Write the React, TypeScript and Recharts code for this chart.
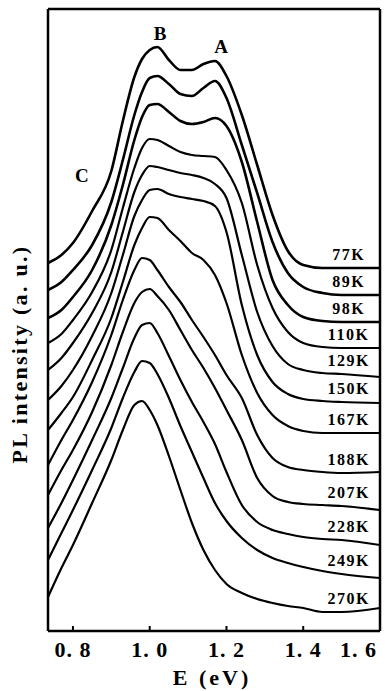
import React from "react";
import { LineChart, Line, XAxis, YAxis, ReferenceDot, CartesianGrid } from "recharts";

// photon energy (eV) shared by all spectra
const energy = [
  0.735, 0.77, 0.8, 0.85, 0.9, 0.93, 0.96, 0.98, 1.0, 1.02, 1.05, 1.08,
  1.11, 1.14, 1.17, 1.2, 1.24, 1.28, 1.32, 1.36, 1.4, 1.45, 1.5, 1.6,
];

const temperatures = ["77K", "89K", "98K", "110K", "129K", "150K", "167K", "188K", "207K", "228K", "249K", "270K"];

// PL intensity (a.u.), curves stacked with offsets as in the figure
const pl77K = [368, 376, 388, 420, 460, 510, 554, 572, 581, 584, 571, 561, 561, 567, 570, 555, 516, 466, 416, 380, 366, 363, 363, 363];
const pl89K = [341, 349, 361, 386, 429, 471, 516, 539, 553, 555, 547, 537, 535, 543, 550, 533, 486, 438, 389, 358, 344, 338, 336, 336];
const pl98K = [313, 321, 334, 361, 406, 446, 491, 514, 526, 527, 519, 510, 507, 509, 513, 505, 469, 409, 351, 326, 314, 310, 309, 309];
const pl110K = [288, 297, 311, 339, 381, 423, 463, 483, 492, 491, 485, 479, 476, 475, 474, 461, 428, 366, 323, 299, 288, 284, 283, 283];
const pl129K = [261, 273, 288, 318, 359, 399, 439, 456, 465, 464, 461, 458, 456, 453, 447, 433, 376, 319, 285, 267, 261, 258, 257, 254];
const pl150K = [231, 245, 261, 295, 338, 376, 415, 431, 441, 442, 437, 434, 432, 430, 425, 399, 326, 276, 249, 237, 232, 230, 229, 228];
const pl167K = [201, 218, 234, 271, 313, 349, 386, 403, 414, 413, 401, 390, 378, 371, 356, 328, 276, 238, 216, 205, 200, 198, 198, 198];
const pl188K = [166, 191, 211, 249, 296, 331, 361, 373, 371, 361, 344, 329, 311, 294, 276, 256, 233, 196, 173, 164, 161, 159, 158, 159];
const pl207K = [136, 161, 181, 219, 266, 299, 328, 339, 342, 335, 321, 301, 281, 263, 243, 221, 191, 153, 135, 129, 127, 126, 125, 121];
const pl228K = [103, 128, 151, 191, 233, 263, 293, 306, 308, 298, 275, 251, 229, 209, 187, 159, 126, 109, 101, 97, 94, 92, 91, 86];
const pl249K = [71, 98, 121, 161, 203, 233, 259, 270, 268, 257, 233, 205, 179, 153, 128, 110, 93, 81, 73, 68, 64, 60, 57, 53];
const pl270K = [34, 63, 86, 128, 171, 201, 226, 230, 221, 206, 175, 141, 108, 81, 61, 47, 38, 32, 28, 25, 23, 19, 19, 23];

const spectra = [pl77K, pl89K, pl98K, pl110K, pl129K, pl150K, pl167K, pl188K, pl207K, pl228K, pl249K, pl270K];

const energyTicks = [0.8, 1.0, 1.2, 1.4, 1.6];

const peakMarks = [
  { name: "B", e: 1.027, i: 598 },
  { name: "A", e: 1.186, i: 585 },
  { name: "C", e: 0.823, i: 456 },
];

const E_MIN = 0.735;
const E_MAX = 1.6;
const I_MAX = 622;
const LABEL_AT = 22; // temperature tag sits over the 1.5 eV point
const TOP = 9;
const TICK_IN = 5;

const FONT = "'Liberation Serif', 'Times New Roman', serif";

const rows = energy.map((e, i) => {
  const row: Record<string, number> = { e };
  spectra.forEach((s, k) => {
    row[temperatures[k]] = s[i];
  });
  return row;
});

const fmtE = (v: number) => v.toFixed(1).replace(".", ". ");

// tick text; y arrives at the inner end of the (inward) tick line
function EnergyTick(props: any) {
  const { x, y, payload } = props;
  const last = payload.value >= E_MAX - 1e-6;
  return (
    <text
      x={last ? x + 2 : x}
      y={y + TICK_IN + 26}
      textAnchor={last ? "end" : "middle"}
      fontFamily={FONT}
      fontWeight="bold"
      fontSize={22}
      letterSpacing={1}
      fill="#000"
    >
      {fmtE(payload.value)}
    </text>
  );
}

function tempTag(name: string) {
  return (p: any) => {
    if (p.index !== LABEL_AT) return <g key={`${name}-${p.index}`} />;
    return (
      <text
        key={`${name}-tag`}
        x={p.cx + 7}
        y={p.cy - 8}
        textAnchor="middle"
        fontFamily={FONT}
        fontWeight="bold"
        fontSize={16}
        letterSpacing={1.5}
        fill="#000"
      >
        {name}
      </text>
    );
  };
}

export default function App() {
  return (
    <div style={{ position: "absolute", left: 0, top: 0, width: 385, height: 691, background: "#fff" }}>
      <LineChart width={385} height={691} data={rows} margin={{ top: TOP, right: 5, bottom: 0, left: 0 }}>
        {/* top and right sides of the frame, taken from the plot offset */}
        <CartesianGrid
          stroke="#000"
          strokeWidth={2.5}
          fill="none"
          horizontalCoordinatesGenerator={({ offset }: any) => [offset.top]}
          verticalCoordinatesGenerator={({ offset }: any) => [offset.left + offset.width]}
        />
        <XAxis
          dataKey="e"
          type="number"
          domain={[E_MIN, E_MAX]}
          ticks={energyTicks}
          allowDataOverflow
          axisLine={{ stroke: "#000", strokeWidth: 2.5 }}
          tickLine={{ stroke: "#000", strokeWidth: 2 }}
          tickSize={-TICK_IN}
          tickMargin={0}
          height={60}
          tick={<EnergyTick />}
          label={{
            content: () => (
              <text x={212} y={685} textAnchor="middle" fontFamily={FONT} fontWeight="bold" fontSize={22} letterSpacing={3} fill="#000">
                E (eV)
              </text>
            ),
          }}
        />
        <YAxis
          type="number"
          domain={[0, I_MAX]}
          allowDataOverflow
          width={48}
          axisLine={{ stroke: "#000", strokeWidth: 2.5 }}
          tickLine={false}
          tick={false}
          label={{
            content: () => (
              <text
                x={27}
                y={354}
                transform="rotate(-90 27 354)"
                textAnchor="middle"
                fontFamily={FONT}
                fontWeight="bold"
                fontSize={22}
                letterSpacing={2.3}
                fill="#000"
              >
                PL intensity (a. u.)
              </text>
            ),
          }}
        />
        {temperatures.map((t, k) => (
          <Line
            key={t}
            dataKey={t}
            type="monotone"
            stroke="#000"
            strokeWidth={k < 3 ? 2.6 : 2.2}
            dot={tempTag(t)}
            activeDot={false}
            isAnimationActive={false}
          />
        ))}
        {peakMarks.map((m) => (
          <ReferenceDot
            key={m.name}
            x={m.e}
            y={m.i}
            r={1}
            shape={(p: any) => (
              <text
                x={p.cx}
                y={p.cy}
                dominantBaseline="central"
                textAnchor="middle"
                fontFamily={FONT}
                fontWeight="bold"
                fontSize={19}
                fill="#000"
              >
                {m.name}
              </text>
            )}
          />
        ))}
      </LineChart>
    </div>
  );
}
